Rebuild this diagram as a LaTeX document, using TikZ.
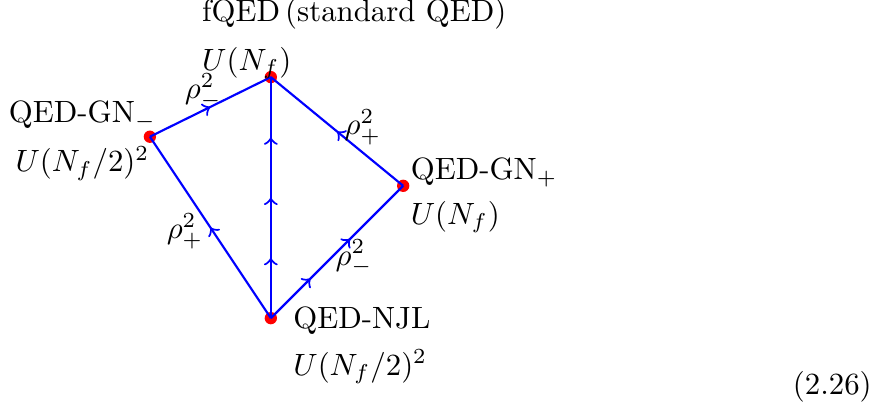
\documentclass[tikz,border=0pt]{standalone}
\usepackage{tikz}
\usetikzlibrary{decorations.markings}
\tikzset{
  rgFix/.style={circle, fill=red, inner sep=0pt, minimum size=4pt},
  rgLbl/.style={inner sep=0pt},
  %% flow lines and mid arrows
  rgflow/.style={draw=blue, line width=0.7pt},
  rgmark/.style={postaction={decorate,
    decoration={markings, mark=at position #1 with {\arrow[blue]{>}}}}},
}
\begin{document}
\begin{tikzpicture}[x=1cm, y=1cm]
\useasboundingbox (0,0) rectangle (10.04,4.71);

\node[rgFix] (pFQED) at (3.09,3.83) {};
\node[rgFix] (pGNm)  at (1.71,3.15) {};
\node[rgFix] (pGNp)  at (4.60,2.59) {};
\node[rgFix] (pNJL)  at (3.09,1.08) {};

\draw[rgflow, rgmark=0.5] (pGNm.center) -- (pFQED.center);
\draw[rgflow, rgmark=0.5] (pGNp.center) -- (pFQED.center);
\draw[rgflow, rgmark=0.5] (pNJL.center) -- (pGNm.center);
\draw[rgflow, rgmark=0.3, rgmark=0.6] (pNJL.center) -- (pGNp.center);
\draw[rgflow, rgmark=0.25, rgmark=0.5, rgmark=0.75] (pNJL.center) -- (pFQED.center);

\node[rgLbl, anchor=base west] (tFQED) at (2.30,4.47) {fQED\,(standard QED)};
\node[rgLbl, anchor=base west] (gFQED) at (2.30,3.91) {$U(N_f)$};
\node[rgLbl, anchor=base]      (tGNm)  at (0.94,3.31) {QED-GN$_-$};
\node[rgLbl, anchor=base]      (gGNm)  at (0.94,2.75) {$U(N_f/2)^2$};
\node[rgLbl, anchor=base west] (tGNp)  at (4.68,2.66) {QED-GN$_+$};
\node[rgLbl, anchor=base west] (gGNp)  at (4.68,2.15) {$U(N_f)$};
\node[rgLbl, anchor=base west] (tNJL)  at (3.34,0.96) {QED-NJL};
\node[rgLbl, anchor=base west] (gNJL)  at (3.34,0.43) {$U(N_f/2)^2$};

\node[rgLbl] (rTL) at (2.32,3.67) {$\rho_-^2$};
\node[rgLbl] (rTR) at (4.14,3.26) {$\rho_+^2$};
\node[rgLbl] (rBL) at (2.11,2.07) {$\rho_+^2$};
\node[rgLbl] (rBR) at (4.04,1.77) {$\rho_-^2$};

\node[rgLbl, anchor=base west] (eqNo) at (9.04,0.21) {(2.26)};

\end{tikzpicture}
\end{document}
